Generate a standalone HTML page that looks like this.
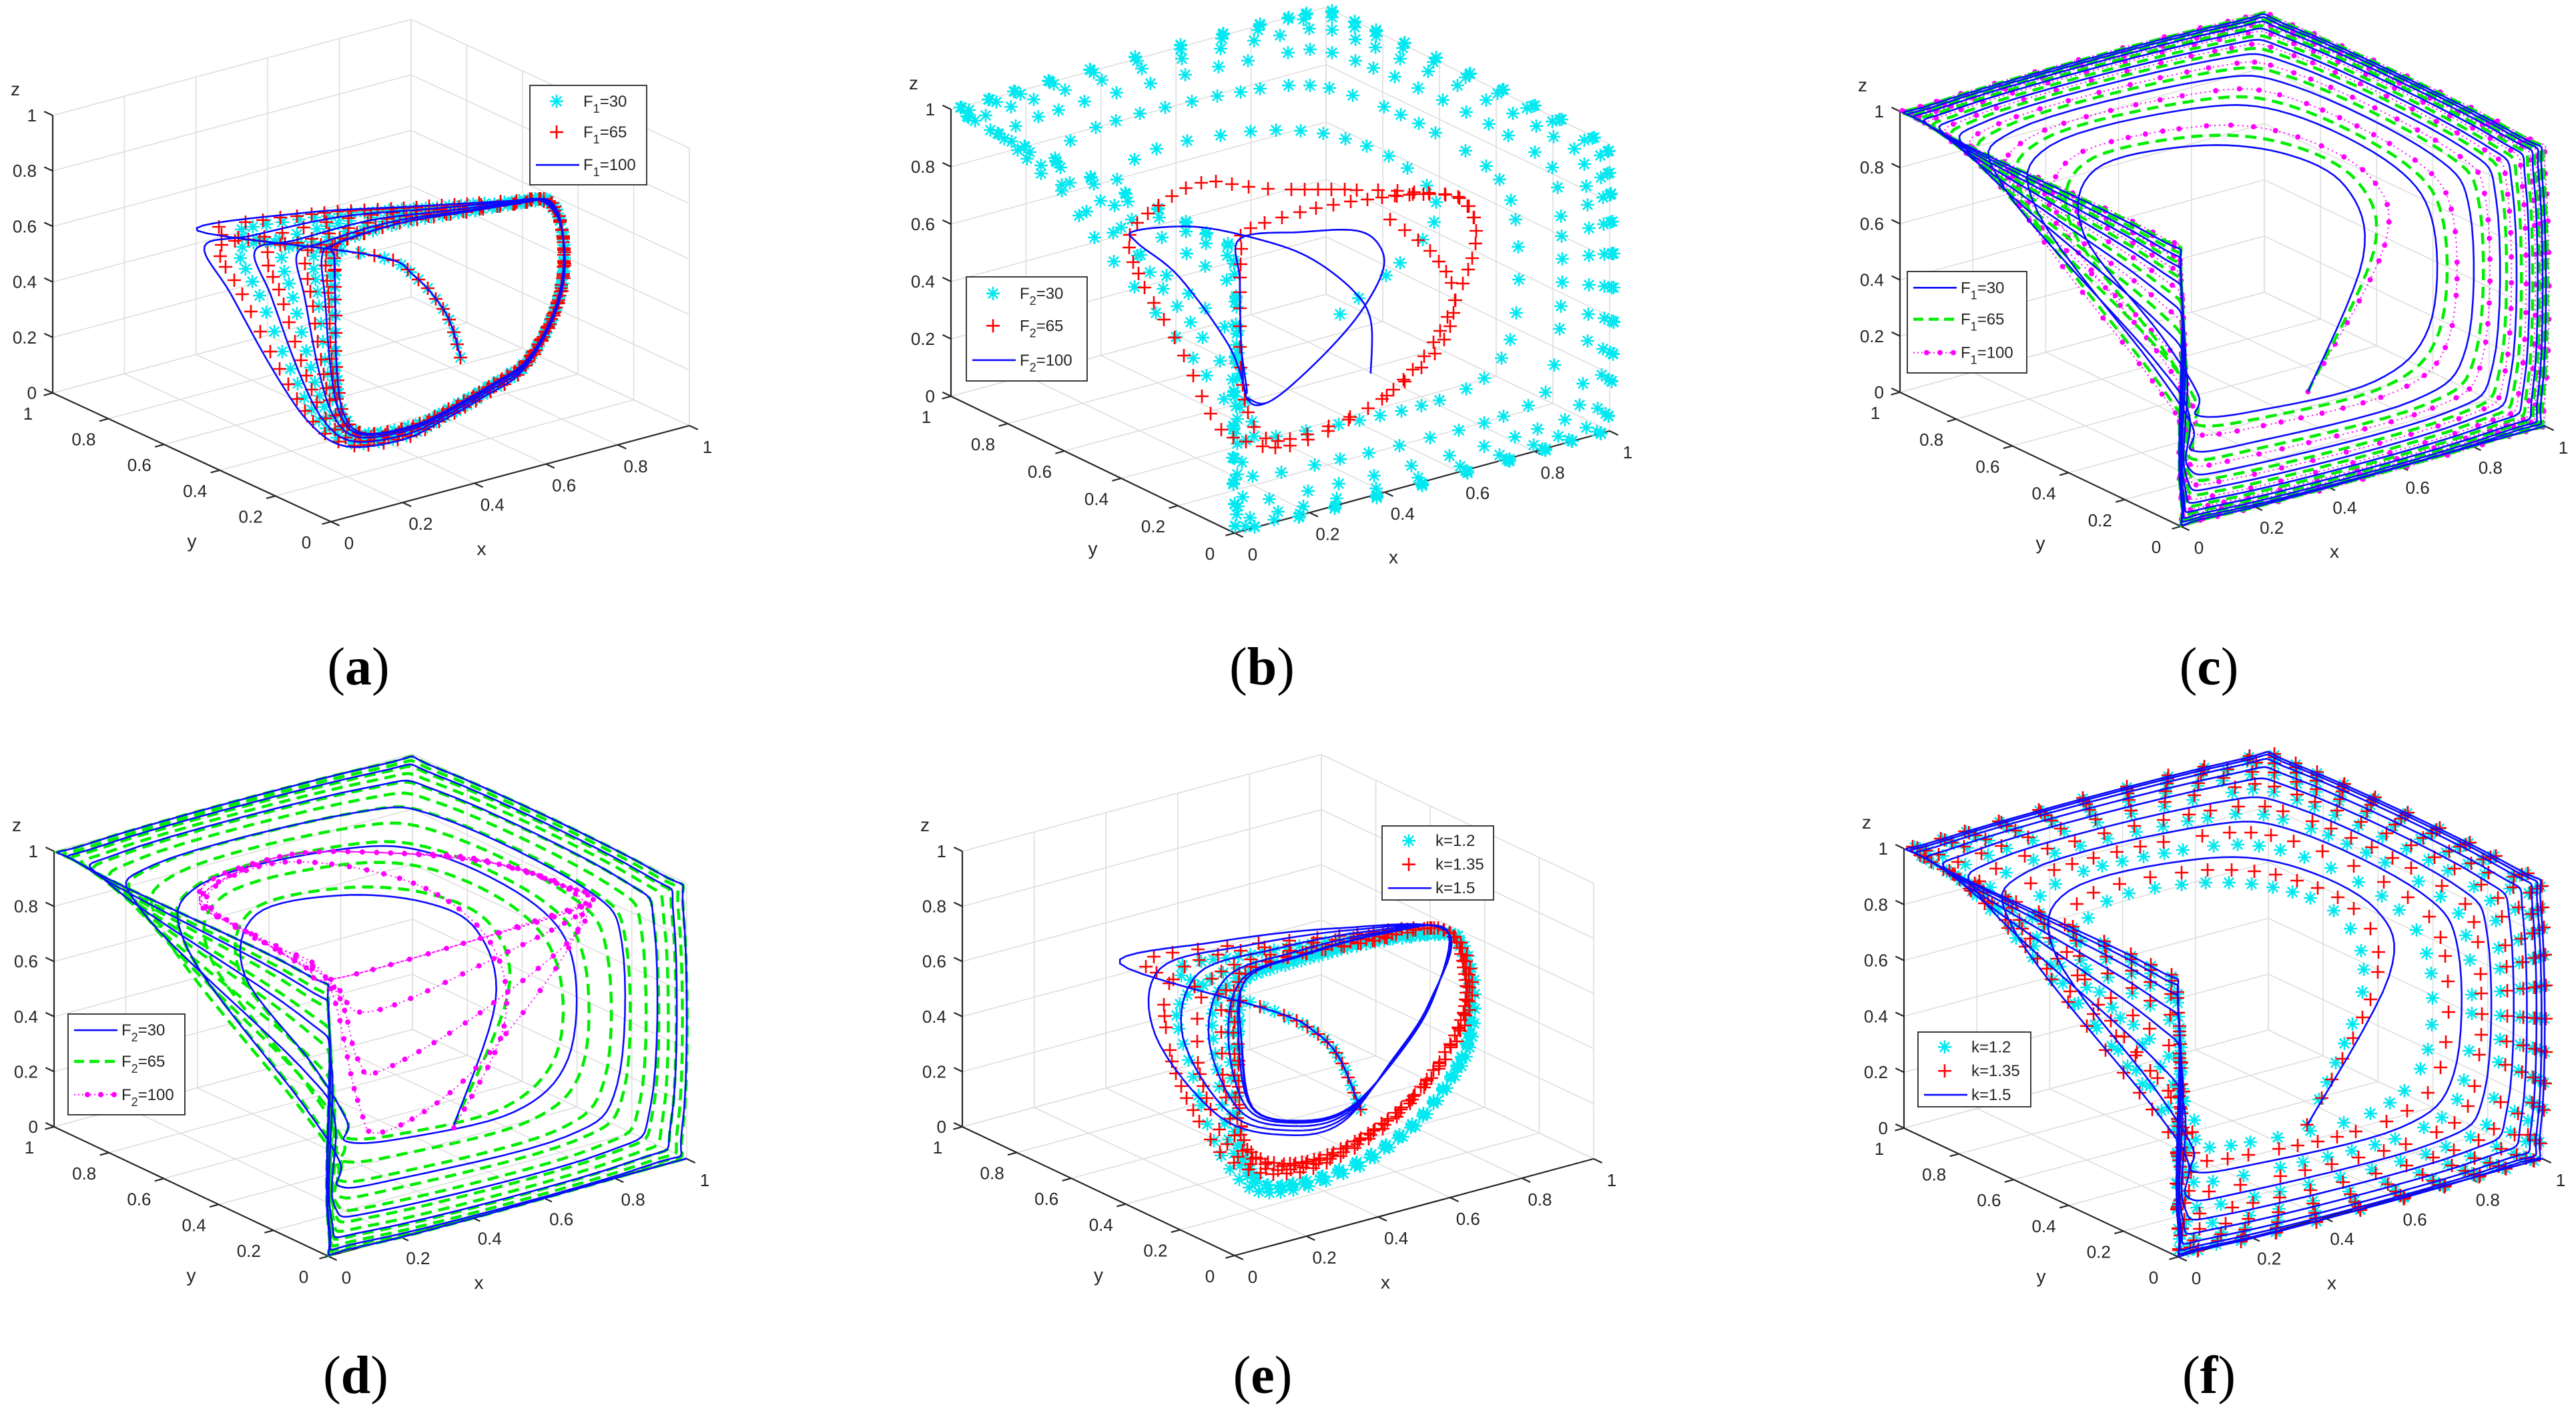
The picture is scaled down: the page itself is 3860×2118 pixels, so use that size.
<!DOCTYPE html>
<html><head><meta charset="utf-8">
<style>
html,body{margin:0;padding:0;background:#fff}
svg{display:block}
text{font-family:"Liberation Sans",Arial,sans-serif;fill:#262626}
.plab{font-family:"Liberation Serif","Times New Roman",serif;fill:#000}
</style></head>
<body>
<svg id="fig" width="3860" height="2118" viewBox="0 0 3860 2118" xmlns="http://www.w3.org/2000/svg">
<rect width="3860" height="2118" fill="#fff"/>
</svg>
<script>
// ---------- data ----------
const TICK_VALUES=[0,0.2,0.4,0.6,0.8,1];
const TICK_LABELS=['0','0.2','0.4','0.6','0.8','1'];
const HEX_CYCLE=[[0,1,1],[0,0,1],[0,0,0],[1,0,0],[1,0,1],[1,1,1]];
const SPIRAL_CENTER=[0.5,0.5,0.5];
const SPIRAL_START=[0.58,0.3,0.13];

// panel a
const A_CYCLE=[[0.4,0.5,0.63],[0.581,0.5,0.643],[0.767,0.5,0.619],[0.935,0.5,0.596],[0.993,0.5,0.584],[1.028,0.5,0.5],[1.037,0.5,0.328],[1.009,0.5,0.17],[0.935,0.5,0.027],[0.842,0.5,-0.025],[0.73,0.5,-0.07],[0.62,0.5,-0.1],[0.48,0.5,-0.08],[0.423,0.5,0.012],[0.404,0.5,0.187],[0.4,0.5,0.429],[0.398,0.5,0.58]];
const A_START=[[0.75,0.5,0.1],[0.71,0.5,0.27],[0.62,0.5,0.44],[0.51,0.5,0.55]];
const A_PIVOT=[1.03,0.5,0.2];
const A_F1_30=[1.45,1.25,1.1,1.02,1,1,1];
const A_F1_65=[1.55,1.32,1.14,1.04,1,1,1];
const A_F1_100=[1.62,1.38,1.18,1.06,1,1,1];

// panel b
const B_F2_30=[0.55,0.72,0.85,0.93,0.975,0.995,1,1,1];
const B_F2_30_START=[0.66,0.5,0.29];
const B_RED_TRANSIENT=[[0.793,0.5,0.573],[0.912,0.5,0.402],[0.965,0.5,0.23],[0.912,0.5,0.063],[0.734,0.5,-0.064],[0.526,0.5,-0.121],[0.396,0.5,-0.056],[0.325,0.5,0.039],[0.23,0.5,0.331],[0.129,0.5,0.597],[0.097,0.5,0.753],[0.147,0.5,0.823],[0.289,0.5,0.88],[0.467,0.5,0.795],[0.734,0.5,0.696],[0.912,0.5,0.621]];
const B_RED_CYCLE=[[0.987,0.5,0.571],[1.022,0.5,0.452],[1.001,0.5,0.324],[0.926,0.5,0.137],[0.853,0.5,0.028],[0.734,0.5,-0.064],[0.526,0.5,-0.098],[0.437,0.5,-0.038],[0.399,0.5,0.136],[0.392,0.5,0.406],[0.396,0.5,0.595],[0.408,0.5,0.67],[0.574,0.5,0.683],[0.752,0.5,0.661],[0.882,0.5,0.629]];
const B_RED_REPEAT=3;
const B_BLUE_TRANSIENT=[[0.741,0.5,0.054],[0.741,0.5,0.24],[0.69,0.5,0.367],[0.574,0.5,0.52],[0.437,0.5,0.632],[0.271,0.5,0.733],[0.111,0.5,0.775],[0.12,0.5,0.729],[0.23,0.5,0.573],[0.364,0.5,0.283],[0.41,0.5,0.102]];
const B_BLUE_CYCLE=[[0.396,0.5,0.269],[0.392,0.5,0.503],[0.392,0.5,0.648],[0.556,0.5,0.613],[0.704,0.5,0.565],[0.766,0.5,0.487],[0.771,0.5,0.392],[0.698,0.5,0.255],[0.574,0.5,0.125],[0.467,0.5,0.051],[0.41,0.5,0.088]];
const B_BLUE_REPEAT=4;

// panel c
const C_F1_30=[0.5,0.66,0.77,0.85,0.9,0.94,0.965,0.98,0.99,1];
const C_F1_65=[0.54,0.69,0.8,0.87,0.915,0.95,0.97,0.985,0.995,1];
const C_F1_100=[0.58,0.72,0.82,0.885,0.93,0.958,0.975,0.99,1,1];

// panel d
const D_F2_30=[0.45,0.65,0.8,0.9,0.96,0.99,1];
const D_F2_65=[0.5,0.6,0.68,0.75,0.81,0.86,0.9,0.93,0.955,0.975,0.99,1];
const D_MAG_PATH=[[0.58,0.3,0.12],[0.72,0.3,0.44],[0.72,0.35,0.72],[0.62,0.5,0.9],[0.4,0.68,0.97],[0.12,0.6,0.98],[0.05,0.3,0.98],[0.03,0.05,0.98],[0.12,0.05,0.5],[0.19,0.05,0.36],[0.45,0.05,0.5],[0.77,0.08,0.93],[0.76,0.37,0.98],[0.61,0.57,0.98],[0.4,0.7,0.98],[0.1,0.6,0.98],[0.03,0.05,0.98],[0.12,0.05,0.65],[0.19,0.05,0.585],[0.5,0.05,0.72],[0.77,0.06,0.95],[0.76,0.37,0.98],[0.61,0.57,0.98],[0.4,0.7,0.98],[0.1,0.6,0.98],[0.03,0.05,0.98],[0.15,0.05,0.81],[0.5,0.05,0.88],[0.775,0.06,0.97]];
const D_MAG_CYCLE=[[0.79,0.2,0.98],[0.76,0.37,0.98],[0.61,0.57,0.98],[0.4,0.7,0.98],[0.1,0.6,0.98],[0.06,0.36,0.98],[0.03,0.12,0.98],[0.03,0.03,0.98],[0.4,0.03,0.98],[0.775,0.06,0.98]];
const D_MAG_REPEAT=3;

// panel e
const E_CYCLE=[[0.411,0.5,0.624],[0.565,0.5,0.638],[0.77,0.5,0.634],[0.952,0.5,0.599],[0.998,0.5,0.566],[1.03,0.5,0.407],[1.03,0.5,0.212],[0.99,0.5,0.09],[0.89,0.5,-0.05],[0.74,0.5,-0.14],[0.56,0.5,-0.165],[0.45,0.5,-0.12],[0.394,0.5,0.054],[0.387,0.5,0.303],[0.392,0.5,0.499]];
const E_RED_CYCLE=[[0.409,0.5,0.644],[0.77,0.5,0.639],[0.963,0.5,0.611],[1.02,0.5,0.431],[1.002,0.5,0.243],[0.881,0.5,0.043],[0.732,0.5,-0.062],[0.584,0.5,-0.095],[0.463,0.5,-0.05],[0.401,0.5,0.066],[0.39,0.5,0.36]];
const E_BLUE_CYCLE=[[0.411,0.5,0.624],[0.584,0.5,0.656],[0.788,0.5,0.657],[0.97,0.5,0.609],[0.935,0.5,0.38],[0.842,0.5,0.21],[0.7,0.5,0.058],[0.558,0.5,0.06],[0.429,0.5,0.154],[0.398,0.5,0.407]];
const E_START=[[0.73,0.5,0.04],[0.67,0.5,0.25],[0.6,0.5,0.37],[0.49,0.5,0.48]];
const E_PIVOT=[0.97,0.5,0.3];
const E_K12=[1.35,1.15,1.05,1,1,1];
const E_K135=[1.5,1.3,1.12,1.03,1,1];
const E_K15=[1.66,1.45,1.25,1.1,1.02,1,1];

// panel f
const F_K12=[0.5,0.65,0.77,0.86,0.92,0.96,0.98,0.995,1];
const F_K135=[0.55,0.7,0.8,0.88,0.93,0.965,0.985,1,1];
const F_K15=[0.6,0.74,0.83,0.9,0.94,0.97,0.985,0.995,1];

// ---------- geometry ----------
const PANELS={
 a:{O:[496,782],ex:[537,-144],ey:[-417,-193],ez:[0,-416],lab:[537,1000]},
 b:{O:[1850,799],ex:[562,-153],ey:[-425,-205],ez:[0,-430],lab:[1891,1000]},
 c:{O:[3268,789],ex:[546,-150],ey:[-421,-201],ez:[0,-421],lab:[3310,1000]},
 d:{O:[492,1883],ex:[537,-146],ey:[-411,-194],ez:[0,-413],lab:[533,2062]},
 e:{O:[1850,1882],ex:[538,-145],ey:[-408,-193],ez:[0,-413],lab:[1892,2062]},
 f:{O:[3264,1884],ex:[546,-147],ey:[-411,-193],ez:[0,-419],lab:[3310,2062]}
};
const NS='http://www.w3.org/2000/svg';
const svg=document.getElementById('fig');
function mk(tag,attrs,parent){const e=document.createElementNS(NS,tag);for(const k in attrs)e.setAttribute(k,attrs[k]);(parent||svg).appendChild(e);return e;}
function pr(P,p){return [P.O[0]+P.ex[0]*p[0]+P.ey[0]*p[1]+P.ez[0]*p[2],P.O[1]+P.ex[1]*p[0]+P.ey[1]*p[1]+P.ez[1]*p[2]];}
function lerp(a,b,f){return a.map((v,i)=>v+(b[i]-v)*f);}
function clamp(v){return Math.max(0,Math.min(1,v));}
function smooth(pts,n){
 if(pts.length<3)return pts;const out=[];
 for(let i=0;i<pts.length-1;i++){
  const p0=pts[Math.max(i-1,0)],p1=pts[i],p2=pts[i+1],p3=pts[Math.min(i+2,pts.length-1)];
  for(let t=0;t<n;t++){const s=t/n,s2=s*s,s3=s2*s;const q=[0,1].map(d=>0.5*(2*p1[d]+(-p0[d]+p2[d])*s+(2*p0[d]-5*p1[d]+4*p2[d]-p3[d])*s2+(-p0[d]+3*p1[d]-3*p2[d]+p3[d])*s3));out.push(q);}
 }
 out.push(pts[pts.length-1]);return out;
}
function scaled(v,s){return v.map((vv,d)=>SPIRAL_CENTER[d]+s*(vv-SPIRAL_CENTER[d]));}
function hexSpiral(start,scales){
 const corners=[];
 for(let i=0;i<scales.length-1;i++)for(let j=0;j<6;j++){
  const s=scales[i]+(scales[i+1]-scales[i])*j/6;const idx=(4+j)%6;
  let p=scaled(HEX_CYCLE[idx],s);
  if(idx===1){
   const w=clamp((1-s)*4);
   const z3=scaled(HEX_CYCLE[2],s)[2];
   p=[p[0],p[1],Math.max(p[2]-w*0.7,z3+0.12)];
  }
  corners.push({p,s,idx});
 }
 const pts=[start];
 corners.forEach((c,k)=>{const prev=k>0?corners[k-1].p:start;const next=k<corners.length-1?corners[k+1].p:c.p;const f=0.1+0.35*(1-c.s);pts.push(lerp(c.p,prev,f));pts.push(lerp(c.p,next,f));});
 return pts;
}
function loopSeries(start,cycle,scales,pivot){
 const zs=cycle.map(p=>p[2]),xs=cycle.map(p=>p[0]);
 const zb=Math.min(...zs),zt=Math.max(...zs),xl=Math.min(...xs);
 let pts=start.slice();
 scales.forEach(k=>{cycle.forEach(p=>{
  const zr=0.12+0.88*clamp((p[2]-zb)/(zt-zb));
  const lr=clamp((pivot[0]-p[0])/(pivot[0]-xl));
  pts.push([pivot[0]+(p[0]-pivot[0])*(1+(k-1)*zr),p[1],p[2]+(k-1)*zr*lr*0.3-(k-1)*(1-zr)*0.1]);
 });});
 return pts;
}
function repeatCycle(trans,cycle,n){let pts=trans.slice();for(let i=0;i<n;i++)pts=pts.concat(cycle);return pts;}
function toPath(sp){return 'M'+sp.map(p=>p[0].toFixed(1)+','+p[1].toFixed(1)).join('L');}
function resample(sp,gap){const out=[sp[0]];let acc=0;for(let i=1;i<sp.length;i++){const dx=sp[i][0]-sp[i-1][0],dy=sp[i][1]-sp[i-1][1];acc+=Math.hypot(dx,dy);if(acc>=gap){out.push(sp[i]);acc=0;}}return out;}
function markerD(kind,x,y){
 const r=10;
 if(kind==='plus')return `M${x-r},${y}h${2*r}M${x},${y-r}v${2*r}`;
 if(kind==='star'){const q=r*0.72;return `M${x-r},${y}h${2*r}M${x},${y-r}v${2*r}M${x-q},${y-q}l${2*q},${2*q}M${x-q},${y+q}l${2*q},${-2*q}`;}
 return '';
}
const COL={cyan:'#00e8f0',red:'#ff0000',blue:'#0a0aff',green:'#00ee00',mag:'#ff00ff'};

function drawSeries(g,P,pts3,style,name){
 const sp=smooth(pts3.map(p=>pr(P,p)),8);
 const s=mk('g',{},g);
 
 
 if(style.kind==='line'){
  const e=mk('path',{d:toPath(sp),fill:'none',stroke:COL.blue,'stroke-width':2.6,'stroke-linejoin':'round'},s);
  
  
 } else if(style.kind==='dash'){
  const e=mk('path',{d:toPath(sp),fill:'none',stroke:COL.green,'stroke-width':4.5,'stroke-dasharray':'17 10'},s);
  
  
 } else if(style.kind==='dot'){
  const e=mk('path',{d:toPath(sp),fill:'none',stroke:COL.mag,'stroke-width':2,'stroke-dasharray':'2 5'},s);
  
  
  const pts=resample(sp,style.gap||24);
  const d=pts.map(p=>`M${(p[0]-4).toFixed(1)},${p[1].toFixed(1)}a4,4 0 1,0 8,0a4,4 0 1,0 -8,0`).join('');
  const m=mk('path',{d:d,fill:COL.mag,stroke:'none'},s);
  
  
 } else {
  const pts=resample(sp,style.gap||26);
  const d=pts.map(p=>markerD(style.kind,Math.round(p[0]),Math.round(p[1]))).join('');
  const m=mk('path',{d:d,fill:'none',stroke:style.kind==='star'?COL.cyan:COL.red,'stroke-width':2.6},s);
  
  
 }
}

function drawAxes(key,P){
 const g=mk('g',{});
 
 
 const grid=mk('g',{stroke:'#dedede','stroke-width':1.6,fill:'none'},g);
 
 
 const L=(a,b,parent,attrs)=>{const pa=pr(P,a),pb=pr(P,b);return mk('line',Object.assign({x1:pa[0],y1:pa[1],x2:pb[0],y2:pb[1]},attrs||{}),parent);};
 TICK_VALUES.forEach(t=>{
  L([t,0,0],[t,1,0],grid);L([0,t,0],[1,t,0],grid);
  L([t,1,0],[t,1,1],grid);L([0,1,t],[1,1,t],grid);
  L([1,t,0],[1,t,1],grid);L([1,0,t],[1,1,t],grid);
 });
 const ax=mk('g',{stroke:'#262626','stroke-width':2.2},g);
 
 
 L([0,1,0],[0,1,1],ax);L([0,0,0],[0,1,0],ax);L([0,0,0],[1,0,0],ax);
 const eyn=Math.hypot(P.ey[0],P.ey[1]),exn=Math.hypot(P.ex[0],P.ex[1]);
 TICK_VALUES.forEach((t,i)=>{
  const zp=pr(P,[0,1,t]);mk('line',{x1:zp[0],y1:zp[1],x2:zp[0]+P.ey[0]/eyn*14,y2:zp[1]+P.ey[1]/eyn*14},ax);
  const yp=pr(P,[0,t,0]);mk('line',{x1:yp[0],y1:yp[1],x2:yp[0]-P.ex[0]/exn*14,y2:yp[1]-P.ex[1]/exn*14},ax);
  const xp=pr(P,[t,0,0]);mk('line',{x1:xp[0],y1:xp[1],x2:xp[0]-P.ey[0]/eyn*14,y2:xp[1]-P.ey[1]/eyn*14},ax);
  const tz=mk('text',{x:zp[0]-24,y:zp[1]+9,'font-size':26,'text-anchor':'end'},g);tz.textContent=TICK_LABELS[i];
  
  
  const ty=mk('text',{x:yp[0]-37,y:yp[1]+40,'font-size':26,'text-anchor':'middle'},g);ty.textContent=TICK_LABELS[i];
  
  
  const tx=mk('text',{x:xp[0]+27,y:xp[1]+41,'font-size':26,'text-anchor':'middle'},g);tx.textContent=TICK_LABELS[i];
  
  
 });
 const z1=pr(P,[0,1,1]);
 const lz=mk('text',{x:z1[0]-56,y:z1[1]-30,'font-size':28,'text-anchor':'middle'},g);lz.textContent='z';
 
 
 const ym=pr(P,[0,0.5,0]);
 const ly=mk('text',{x:ym[0],y:ym[1]+135,'font-size':28,'text-anchor':'middle'},g);ly.textContent='y';
 
 
 const xm=pr(P,[0.5,0,0]);
 const lx=mk('text',{x:xm[0]-43,y:xm[1]+122,'font-size':28,'text-anchor':'middle'},g);lx.textContent='x';
 
 
 const pl=mk('text',{x:P.lab[0],y:P.lab[1]+26,'font-size':80,'text-anchor':'middle',class:'plab'},g);
 
 
 const t1=mk('tspan',{},pl);t1.textContent='(';
 const t2=mk('tspan',{'font-weight':'bold'},pl);t2.textContent=key;
 const t3=mk('tspan',{},pl);t3.textContent=')';
 return g;
}

function drawLegend(g,key,box,rows,entries){
 const lg=mk('g',{},g);
 
 
 const [bx,by,bw,bh]=box;
 mk('rect',{x:bx,y:by,width:bw,height:bh,fill:'#fff',stroke:'#262626','stroke-width':1.8},lg);
 entries.forEach((en,i)=>{
  const yy=by+bh*rows[i];
  const e=mk('g',{},lg);
  
  
  if(en.kind==='star'||en.kind==='plus'){
   mk('path',{d:markerD(en.kind,bx+40,yy),fill:'none',stroke:en.kind==='star'?COL.cyan:COL.red,'stroke-width':2.6},e);
  } else if(en.kind==='line'){
   mk('line',{x1:bx+9,y1:yy,x2:bx+74,y2:yy,stroke:COL.blue,'stroke-width':2.6},e);
  } else if(en.kind==='dash'){
   mk('line',{x1:bx+9,y1:yy,x2:bx+74,y2:yy,stroke:COL.green,'stroke-width':4.5,'stroke-dasharray':'15 8'},e);
  } else {
   mk('line',{x1:bx+9,y1:yy,x2:bx+74,y2:yy,stroke:COL.mag,'stroke-width':2,'stroke-dasharray':'2 4'},e);
   [20,40,60].forEach(o=>mk('circle',{cx:bx+9+o,cy:yy,r:4,fill:COL.mag},e));
  }
  const t=mk('text',{x:bx+80,y:yy+8,'font-size':24},e);
  if(en.sub){const a=mk('tspan',{},t);a.textContent=en.main;const b=mk('tspan',{dy:9,'font-size':18},t);b.textContent=en.sub;const c=mk('tspan',{dy:-9},t);c.textContent=en.rest;}
  else t.textContent=en.main;
 });
}

// ---------- render ----------
let g,P;
P=PANELS.a;g=drawAxes('a',P);
drawSeries(g,P,loopSeries(A_START,A_CYCLE,A_F1_30,A_PIVOT),{kind:'star',gap:16},'series-f1-30');
drawSeries(g,P,loopSeries(A_START,A_CYCLE,A_F1_65,A_PIVOT),{kind:'plus',gap:18},'series-f1-65');
drawSeries(g,P,loopSeries(A_START,A_CYCLE,A_F1_100,A_PIVOT),{kind:'line'},'series-f1-100');
drawLegend(g,'a',[794,128,175,149],[0.16,0.47,0.8],[{kind:'star',main:'F',sub:'1',rest:'=30'},{kind:'plus',main:'F',sub:'1',rest:'=65'},{kind:'line',main:'F',sub:'1',rest:'=100'}]);

P=PANELS.b;g=drawAxes('b',P);
drawSeries(g,P,hexSpiral(B_F2_30_START,B_F2_30),{kind:'star',gap:28},'series-f2-30');
drawSeries(g,P,repeatCycle(B_RED_TRANSIENT,B_RED_CYCLE,B_RED_REPEAT),{kind:'plus',gap:18},'series-f2-65');
drawSeries(g,P,repeatCycle(B_BLUE_TRANSIENT,B_BLUE_CYCLE,B_BLUE_REPEAT),{kind:'line'},'series-f2-100');
drawLegend(g,'b',[1448,415,181,156],[0.16,0.47,0.8],[{kind:'star',main:'F',sub:'2',rest:'=30'},{kind:'plus',main:'F',sub:'2',rest:'=65'},{kind:'line',main:'F',sub:'2',rest:'=100'}]);

P=PANELS.c;g=drawAxes('c',P);
drawSeries(g,P,hexSpiral(SPIRAL_START,C_F1_100),{kind:'dot',gap:24},'series-f1-100');
drawSeries(g,P,hexSpiral(SPIRAL_START,C_F1_65),{kind:'dash'},'series-f1-65');
drawSeries(g,P,hexSpiral(SPIRAL_START,C_F1_30),{kind:'line'},'series-f1-30');
drawLegend(g,'c',[2858,407,179,152],[0.16,0.47,0.8],[{kind:'line',main:'F',sub:'1',rest:'=30'},{kind:'dash',main:'F',sub:'1',rest:'=65'},{kind:'dot',main:'F',sub:'1',rest:'=100'}]);

P=PANELS.d;g=drawAxes('d',P);
drawSeries(g,P,hexSpiral(SPIRAL_START,D_F2_65),{kind:'dash'},'series-f2-65');
drawSeries(g,P,hexSpiral(SPIRAL_START,D_F2_30),{kind:'line'},'series-f2-30');
drawSeries(g,P,repeatCycle(D_MAG_PATH,D_MAG_CYCLE,D_MAG_REPEAT),{kind:'dot',gap:18},'series-f2-100');
drawLegend(g,'d',[102,1520,175,151],[0.16,0.47,0.8],[{kind:'line',main:'F',sub:'2',rest:'=30'},{kind:'dash',main:'F',sub:'2',rest:'=65'},{kind:'dot',main:'F',sub:'2',rest:'=100'}]);

P=PANELS.e;g=drawAxes('e',P);
drawSeries(g,P,loopSeries(E_START,E_CYCLE,E_K12,E_PIVOT),{kind:'star',gap:15},'series-k-1-2');
drawSeries(g,P,loopSeries(E_START,E_RED_CYCLE,E_K135,E_PIVOT),{kind:'plus',gap:17},'series-k-1-35');
drawSeries(g,P,loopSeries(E_START,E_BLUE_CYCLE,E_K15,E_PIVOT),{kind:'line'},'series-k-1-5');
drawLegend(g,'e',[2071,1238,167,111],[0.2,0.52,0.84],[{kind:'star',main:'k=1.2'},{kind:'plus',main:'k=1.35'},{kind:'line',main:'k=1.5'}]);

P=PANELS.f;g=drawAxes('f',P);
drawSeries(g,P,hexSpiral(SPIRAL_START,F_K12),{kind:'star',gap:28},'series-k-1-2');
drawSeries(g,P,hexSpiral(SPIRAL_START,F_K135),{kind:'plus',gap:28},'series-k-1-35');
drawSeries(g,P,hexSpiral(SPIRAL_START,F_K15),{kind:'line'},'series-k-1-5');
drawLegend(g,'f',[2874,1547,169,112],[0.2,0.52,0.84],[{kind:'star',main:'k=1.2'},{kind:'plus',main:'k=1.35'},{kind:'line',main:'k=1.5'}]);
</script>
</body></html>
